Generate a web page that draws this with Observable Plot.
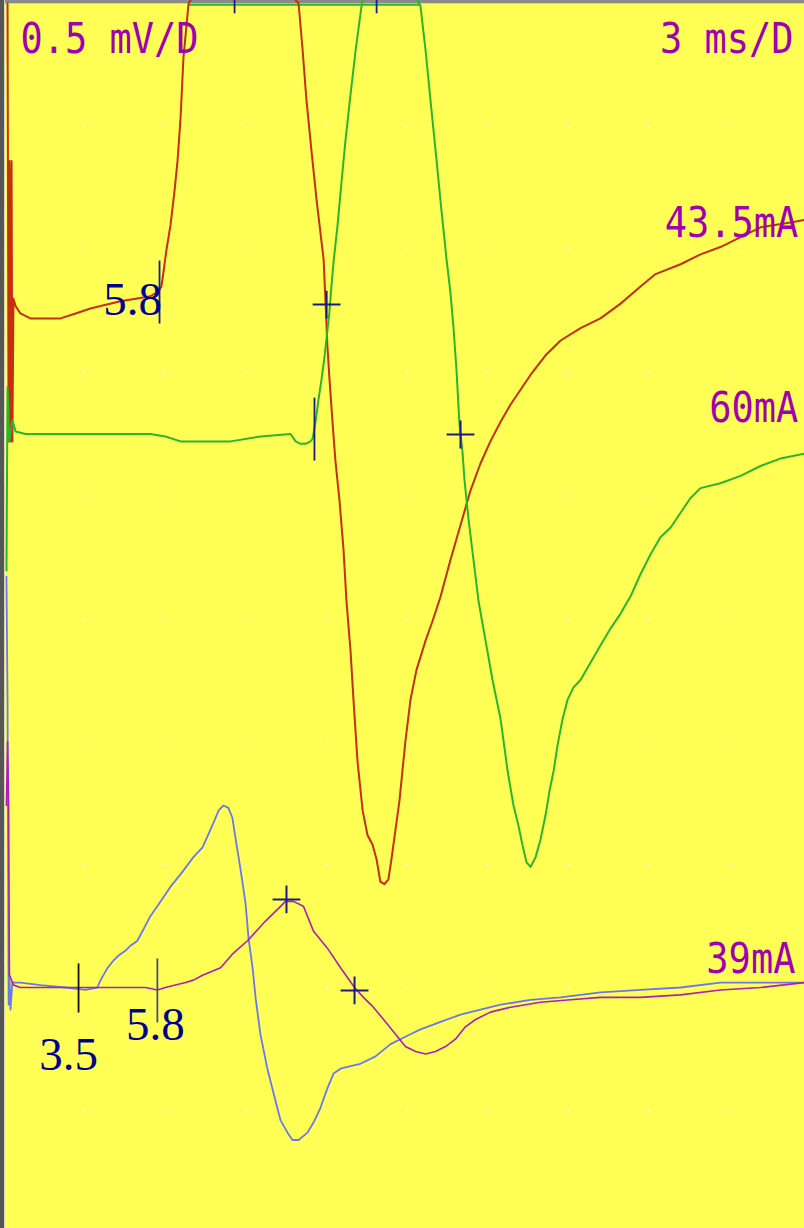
<!DOCTYPE html>
<html><head><meta charset="utf-8">
<script src="https://cdn.jsdelivr.net/npm/d3@7"></script>
<script src="https://cdn.jsdelivr.net/npm/@observablehq/plot@0.6"></script>
<style>
html,body{margin:0;padding:0;background:#ffff55;overflow:hidden;}
#chart svg{display:block;box-shadow:inset 4px 0 0 #565656, inset 5px 0 0 #d8d8b0, inset 0 3px 0 #8a8a8a, inset 0 4px 0 #d0d0c0;}
</style></head><body><div id="chart"></div>
<script>
// time in ms, amplitude in mV relative to each trace's baseline
const traceNames = ["red", "green", "blue", "magenta"];
const traceOffsets = [3.75, 3.25, 1.0, 1.0];

const redTrace = [[0.15,1.25],[0.19,-0.53],[0.22,0.61],[0.26,-0.53],[0.30,0.61],[0.33,-0.53],[0.37,0.05],[0.45,0.02],[0.63,-0.01],[1.00,-0.03],[1.56,-0.03],[2.12,-0.03],[2.68,-0.01],[3.23,0.01],[3.61,0.02],[4.35,0.04],[4.91,0.05],[5.46,0.06],[5.76,0.08],[5.87,0.10],[5.95,0.16],[6.06,0.25],[6.21,0.35],[6.36,0.49],[6.47,0.61],[6.58,0.78],[6.69,1.03],[6.88,1.25],[8.59,1.55],[10.97,1.25],[11.12,1.06],[11.26,0.86],[11.45,0.65],[11.64,0.45],[11.90,0.21],[11.97,0.04],[12.04,-0.14],[12.12,-0.28],[12.23,-0.45],[12.34,-0.61],[12.49,-0.77],[12.64,-0.97],[12.75,-1.18],[12.90,-1.38],[13.01,-1.58],[13.16,-1.83],[13.35,-2.03],[13.53,-2.13],[13.72,-2.17],[13.87,-2.23],[14.01,-2.32],[14.16,-2.33],[14.31,-2.31],[14.42,-2.23],[14.57,-2.11],[14.72,-1.99],[14.83,-1.87],[14.94,-1.75],[15.13,-1.58],[15.35,-1.46],[15.69,-1.34],[15.95,-1.26],[16.25,-1.16],[16.62,-1.01],[16.99,-0.87],[17.36,-0.73],[17.73,-0.62],[18.10,-0.53],[18.48,-0.45],[18.85,-0.38],[19.22,-0.32],[19.59,-0.26],[20.15,-0.18],[20.71,-0.12],[21.45,-0.07],[22.19,-0.03],[22.94,0.03],[23.68,0.10],[24.24,0.15],[25.17,0.19],[25.91,0.23],[26.65,0.26],[27.40,0.30],[28.14,0.34],[29.26,0.36],[29.78,0.37]];

const greenTrace = [[0.11,-0.555],[0.15,0.19],[0.22,-0.03],[0.33,0.055],[0.45,0.01],[0.82,0.00],[2.12,0.00],[3.61,0.00],[5.46,0.00],[6.02,-0.01],[6.58,-0.03],[7.32,-0.03],[8.44,-0.03],[9.55,-0.01],[10.67,0.00],[10.86,-0.03],[11.04,-0.04],[11.23,-0.04],[11.41,-0.03],[11.49,-0.02],[11.60,0.05],[11.71,0.14],[11.82,0.22],[11.93,0.31],[12.04,0.42],[12.12,0.50],[12.19,0.60],[12.27,0.70],[12.42,0.85],[12.57,1.03],[12.71,1.19],[12.90,1.38],[13.09,1.56],[13.31,1.74],[13.87,2.10],[15.50,1.74],[15.69,1.56],[15.87,1.36],[16.10,1.11],[16.28,0.91],[16.47,0.71],[16.62,0.57],[16.73,0.43],[16.84,0.26],[16.95,0.04],[17.06,-0.07],[17.14,-0.19],[17.29,-0.35],[17.47,-0.51],[17.66,-0.68],[17.92,-0.84],[18.18,-1.00],[18.48,-1.16],[18.74,-1.37],[18.96,-1.51],[19.14,-1.59],[19.29,-1.67],[19.44,-1.74],[19.59,-1.76],[19.78,-1.72],[19.96,-1.65],[20.15,-1.55],[20.30,-1.45],[20.45,-1.37],[20.59,-1.27],[20.78,-1.16],[20.97,-1.08],[21.19,-1.03],[21.45,-1.00],[21.82,-0.93],[22.19,-0.86],[22.57,-0.79],[22.94,-0.73],[23.31,-0.66],[23.68,-0.57],[24.05,-0.49],[24.42,-0.42],[24.80,-0.38],[25.17,-0.32],[25.54,-0.26],[25.91,-0.22],[26.65,-0.20],[27.40,-0.17],[28.14,-0.13],[28.88,-0.10],[29.78,-0.08]];

const blueTrace = [[0.11,1.67],[0.15,1.17],[0.19,-0.07],[0.22,0.05],[0.26,-0.09],[0.33,0.02],[0.63,0.02],[1.38,0.01],[2.30,0.00],[3.05,-0.01],[3.49,0.00],[3.61,0.03],[3.87,0.08],[4.09,0.11],[4.28,0.13],[4.54,0.15],[4.72,0.17],[4.98,0.19],[5.46,0.29],[5.84,0.35],[6.21,0.41],[6.58,0.46],[7.06,0.53],[7.40,0.57],[7.81,0.67],[8.00,0.72],[8.18,0.74],[8.36,0.73],[8.51,0.69],[8.62,0.61],[8.74,0.53],[8.88,0.43],[9.00,0.34],[9.11,0.20],[9.26,0.08],[9.37,-0.04],[9.55,-0.19],[9.81,-0.33],[10.04,-0.43],[10.30,-0.54],[10.56,-0.59],[10.74,-0.62],[10.97,-0.62],[11.30,-0.59],[11.52,-0.55],[11.78,-0.49],[12.04,-0.41],[12.27,-0.35],[12.53,-0.33],[12.90,-0.32],[13.27,-0.31],[13.83,-0.28],[14.39,-0.23],[14.94,-0.20],[15.50,-0.17],[16.25,-0.14],[16.99,-0.11],[17.73,-0.09],[18.48,-0.07],[19.59,-0.05],[20.71,-0.04],[22.19,-0.02],[23.68,-0.01],[25.17,0.00],[26.65,0.02],[28.14,0.02],[29.78,0.02]];

const magentaTrace = [[0.11,0.74],[0.15,1.00],[0.19,0.74],[0.22,0.05],[0.30,0.03],[0.37,0.01],[0.63,0.00],[2.12,0.00],[3.61,0.00],[4.72,0.00],[5.28,0.00],[5.72,-0.01],[6.02,0.00],[6.39,0.01],[6.77,0.02],[7.06,0.03],[7.40,0.05],[8.07,0.08],[8.55,0.14],[9.07,0.19],[9.74,0.27],[10.30,0.33],[10.48,0.35],[10.78,0.35],[11.15,0.33],[11.52,0.23],[12.04,0.16],[12.53,0.08],[13.05,0.00],[13.38,-0.04],[13.75,-0.08],[14.28,-0.15],[14.65,-0.20],[14.94,-0.24],[15.32,-0.26],[15.69,-0.27],[16.06,-0.26],[16.43,-0.24],[16.80,-0.21],[17.17,-0.16],[17.55,-0.13],[18.10,-0.10],[18.85,-0.08],[19.96,-0.06],[21.08,-0.05],[22.19,-0.04],[23.68,-0.04],[25.17,-0.03],[26.65,-0.01],[28.14,0.00],[29.78,0.02]];

// cursor ticks (ms, mV screen)
const tickT  = [5.80, 11.56, 2.79, 5.72, 8.59, 13.87];
const tickV1 = [3.955, 3.398, 1.098, 1.118, 5.02, 5.02];
const tickV2 = [3.699, 3.142, 0.898, 0.858, 4.96, 4.96];
// crosshair markers
const crossT = [12.01, 16.99, 10.52, 13.05];
const crossV = [3.776, 3.248, 1.358, 0.988];
// overflow span drawn along top edge
const overflowSpan = [6.88, 15.50];
// grid
const gridT = [3, 6, 9, 12, 15, 18, 21, 24, 27];
const gridV = [0.5, 1.0, 1.5, 2.0, 2.5, 3.0, 3.5, 4.0, 4.5];
// labels
const scaleLabels = ["0.5 mV/D", "3 ms/D"];
const scaleLabelT = [0.63, 29.37];
const scaleLabelV = [4.797, 4.797];
const currentLabels = ["43.5mA", "60mA", "39mA"];
const currentLabelT = [29.55, 29.55, 29.44];
const currentLabelV = [4.049, 3.297, 1.057];
const latencyLabels = ["5.8", "3.5", "5.8"];
const latencyT = [4.80, 2.42, 5.65];
const latencyV = [3.732, 0.663, 0.785];

const series = [redTrace, greenTrace, blueTrace, magentaTrace];
const colors = {red: "#c4300f", green: "#2db42d", blue: "#6a78f0", magenta: "#b01cb4"};
const widths = {red: 2, green: 2, blue: 1.8, magenta: 1.6};

const traceRows = traceNames.map((name, i) => series[i].map(([t, v]) => ({trace: name, t, v: v + traceOffsets[i]})));
const ticks = tickT.map((t, i) => ({t, v1: tickV1[i], v2: tickV2[i], i}));
const tickColors = ["#1a1a8c", "#1a1a8c", "#101010", "#4a4a80", "#1a1a8c", "#1a1a8c"];
const crosses = crossT.map((t, i) => ({t, v: crossV[i]}));
const grid = gridT.flatMap(t => gridV.map(v => ({t, v})));
const scaleRows = scaleLabels.map((s, i) => ({s, t: scaleLabelT[i], v: scaleLabelV[i], anchor: i === 0 ? "start" : "end"}));
const currentRows = currentLabels.map((s, i) => ({s, t: currentLabelT[i], v: currentLabelV[i]}));
const latencyRows = latencyLabels.map((s, i) => ({s, t: latencyT[i], v: latencyV[i]}));

const monoFont = "DejaVu Sans Mono, monospace";
const chart = Plot.plot({
  width: 804, height: 1228, margin: 0,
  style: {background: "#ffff55", overflow: "hidden"},
  x: {domain: [0, 30], range: [3, 810], axis: null},
  y: {domain: [0, 5], range: [1233, 3], axis: null},
  marks: [
    Plot.dot(grid, {x: "t", y: "v", r: 1, fill: "#fffff2"}),
    Plot.link([{t1: overflowSpan[0], t2: overflowSpan[1], v: 4.995}], {x1: "t1", x2: "t2", y1: "v", y2: "v", stroke: colors.green, strokeWidth: 2}),
    ...traceNames.map((name, i) => Plot.line(traceRows[i], {x: "t", y: "v", stroke: colors[name], strokeWidth: widths[name], clip: true})),
    Plot.link(ticks, {x1: "t", x2: "t", y1: "v1", y2: "v2", stroke: d => tickColors[d.i], strokeWidth: 1.8, clip: true}),
    Plot.dot(crosses, {x: "t", y: "v", symbol: "plus", r: 9, stroke: "#1a1a8c", strokeWidth: 2}),
    Plot.text(scaleRows.filter(d => d.anchor === "start"), {x: "t", y: "v", text: "s", textAnchor: "start", lineAnchor: "bottom", fontFamily: monoFont, fontSize: 37, fill: "#a000b0"}),
    Plot.text(scaleRows.filter(d => d.anchor === "end"), {x: "t", y: "v", text: "s", textAnchor: "end", lineAnchor: "bottom", fontFamily: monoFont, fontSize: 37, fill: "#a000b0"}),
    Plot.text(currentRows, {x: "t", y: "v", text: "s", textAnchor: "end", lineAnchor: "bottom", fontFamily: monoFont, fontSize: 37, fill: "#a000b0"}),
    Plot.text(latencyRows, {x: "t", y: "v", text: "s", textAnchor: "middle", lineAnchor: "bottom", fontFamily: "Liberation Serif, Times New Roman, serif", fontSize: 47, fill: "#000090"})
  ]
});
document.getElementById("chart").appendChild(chart);
// the display's character cell is taller than the font's: stretch vertically
const monoSet = new Set([...scaleLabels, ...currentLabels]);
chart.querySelectorAll("text").forEach(el => {
  if (monoSet.has(el.textContent)) {
    const tr = el.getAttribute("transform");
    if (tr) el.setAttribute("transform", tr + " scale(1,1.13)");
  }
});
</script></body></html>
